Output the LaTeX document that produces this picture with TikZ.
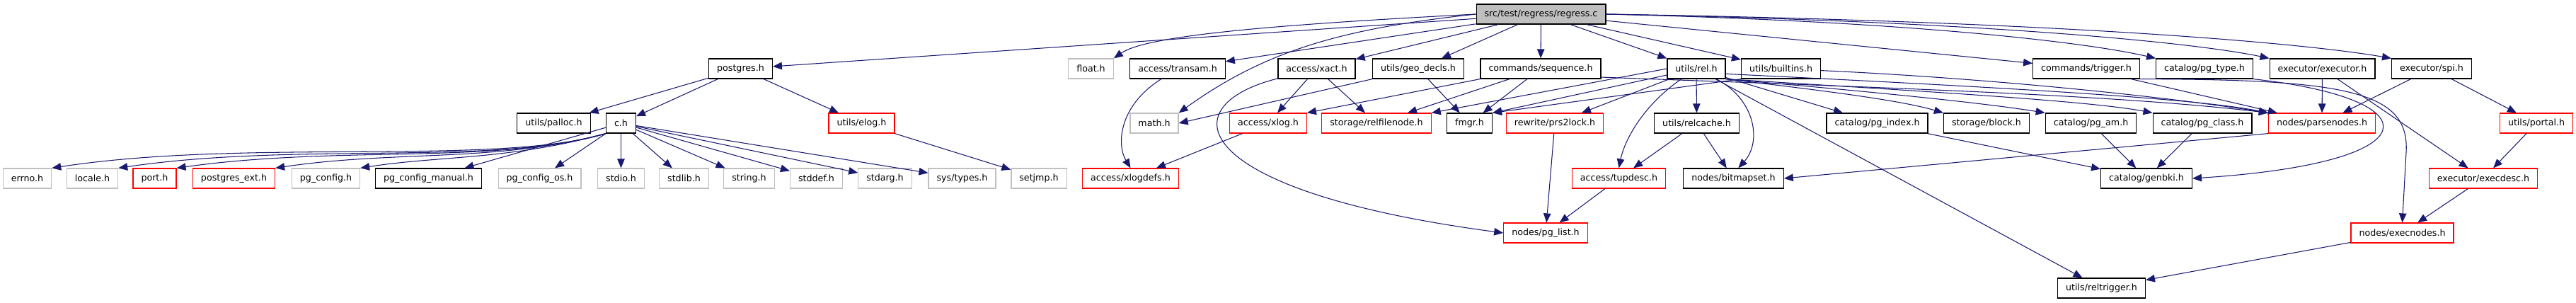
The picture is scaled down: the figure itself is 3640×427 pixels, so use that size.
\documentclass[tikz,border=0pt]{standalone}
\usepackage{fontspec}
\setmainfont{DejaVu Sans}
\usepackage{tikz}
\usetikzlibrary{arrows.meta}
\usepackage{xcolor}
\definecolor{edgeblue}{HTML}{191970}
\definecolor{boxgray}{HTML}{BFBFBF}

\begin{document}
\begin{tikzpicture}[x=0.02cm, y=-0.02cm, >={Triangle[length=2.6mm,width=2.1mm]},
    hdr/.style={draw=black, line width=0.7pt, fill=white, minimum height=0.56cm,
        inner xsep=0.23cm, inner ysep=0pt, font=\fontsize{7.2}{8}\selectfont},
    hdrred/.style={hdr, draw=red},
    hdrgray/.style={hdr, draw=boxgray},
    hdrroot/.style={hdr, fill=boxgray},
    inc/.style={->, draw=edgeblue, line width=0.6pt}]
    \useasboundingbox (0,0) rectangle (3640,427);
    % top file
    \node[hdrroot] (root) at (2177.5,20) {src/test/regress/regress.c};
    % first row
    \node[hdr] (postgres) at (1046.5,97) {postgres.h};
    \node[hdrgray] (float) at (1541.5,97) {float.h};
    \node[hdr] (transam) at (1664,97) {access/transam.h};
    \node[hdr] (xact) at (1860.5,97) {access/xact.h};
    \node[hdr] (geodecls) at (2004,97) {utils/geo\_decls.h};
    \node[hdr] (sequence) at (2177,97) {commands/sequence.h};
    \node[hdr] (rel) at (2397,97) {utils/rel.h};
    \node[hdr] (builtins) at (2516.5,97) {utils/builtins.h};
    \node[hdr] (trigger) at (2948,97) {commands/trigger.h};
    \node[hdr] (pgtype) at (3115,97) {catalog/pg\_type.h};
    \node[hdr] (executor) at (3281.5,97) {executor/executor.h};
    \node[hdr] (spi) at (3436,97) {executor/spi.h};
    % second row
    \node[hdr] (palloc) at (782.5,174) {utils/palloc.h};
    \node[hdr] (ch) at (877.5,174) {c.h};
    \node[hdrred] (elog) at (1217.5,174) {utils/elog.h};
    \node[hdrgray] (math) at (1631,174) {math.h};
    \node[hdrred] (xlog) at (1792,174) {access/xlog.h};
    \node[hdrred] (relfilenode) at (1945,174) {storage/relfilenode.h};
    \node[hdr] (fmgr) at (2076.5,174) {fmgr.h};
    \node[hdrred] (prs2lock) at (2197,174) {rewrite/prs2lock.h};
    \node[hdr] (relcache) at (2397.5,174) {utils/relcache.h};
    \node[hdr] (pgindex) at (2652.5,174) {catalog/pg\_index.h};
    \node[hdr] (block) at (2807,174) {storage/block.h};
    \node[hdr] (pgam) at (2954.5,174) {catalog/pg\_am.h};
    \node[hdr] (pgclass) at (3112,174) {catalog/pg\_class.h};
    \node[hdrred] (parsenodes) at (3281,174) {nodes/parsenodes.h};
    \node[hdrred] (portal) at (3584,174) {utils/portal.h};
    % third row
    \node[hdrgray] (errno) at (38.5,252) {errno.h};
    \node[hdrgray] (locale) at (130.5,252) {locale.h};
    \node[hdrred] (port) at (218.5,252) {port.h};
    \node[hdrred] (postgresext) at (330.5,252) {postgres\_ext.h};
    \node[hdrgray] (pgconfig) at (460.5,252) {pg\_config.h};
    \node[hdr] (pgconfigmanual) at (605.5,252) {pg\_config\_manual.h};
    \node[hdrgray] (pgconfigos) at (762.5,252) {pg\_config\_os.h};
    \node[hdrgray] (stdio) at (877.5,252) {stdio.h};
    \node[hdrgray] (stdlib) at (966.5,252) {stdlib.h};
    \node[hdrgray] (string) at (1058.5,252) {string.h};
    \node[hdrgray] (stddef) at (1153.5,252) {stddef.h};
    \node[hdrgray] (stdarg) at (1250.5,252) {stdarg.h};
    \node[hdrgray] (systypes) at (1359.5,252) {sys/types.h};
    \node[hdrgray] (setjmp) at (1468,252) {setjmp.h};
    \node[hdrred] (xlogdefs) at (1597.5,252) {access/xlogdefs.h};
    \node[hdrred] (tupdesc) at (2287.5,252) {access/tupdesc.h};
    \node[hdr] (bitmapset) at (2449.5,252) {nodes/bitmapset.h};
    \node[hdr] (genbki) at (3033,252) {catalog/genbki.h};
    \node[hdrred] (execdesc) at (3509,252) {executor/execdesc.h};
    % bottom rows
    \node[hdrred] (pglist) at (2184,329) {nodes/pg\_list.h};
    \node[hdrred] (execnodes) at (3394.5,329) {nodes/execnodes.h};
    \node[hdr] (reltrigger) at (2969.5,407) {utils/reltrigger.h};

    % includes of regress.c
    \draw[inc] (root) -- (postgres);
    \draw[inc] (root.west) .. controls (1800,35) and (1620,50) .. (float.north east);
    \draw[inc] (root) -- (transam);
    \draw[inc] (root.west) .. controls (1900,40) and (1790,70) .. (math.north east);
    \draw[inc] (root) -- (xact);
    \draw[inc] (root) -- (geodecls);
    \draw[inc] (root) -- (sequence);
    \draw[inc] (root) -- (rel);
    \draw[inc] (root) -- (builtins);
    \draw[inc] (root) -- (trigger);
    \draw[inc] (root.east) .. controls (2700,30) and (2950,60) .. (pgtype.north west);
    \draw[inc] (root.east) .. controls (2800,30) and (3100,60) .. (executor.north west);
    \draw[inc] (root.east) .. controls (2900,30) and (3250,60) .. (spi.north west);
    % postgres.h and c.h
    \draw[inc] (postgres) -- (palloc);
    \draw[inc] (postgres) -- (ch);
    \draw[inc] (postgres) -- (elog);
    \draw[inc] (elog) -- (setjmp);
    \draw[inc] (ch.south west) .. controls (700,235) and (350,195) .. (errno.north east);
    \draw[inc] (ch.south west) .. controls (700,235) and (420,200) .. (locale.north east);
    \draw[inc] (ch.south west) .. controls (700,233) and (480,205) .. (port.north east);
    \draw[inc] (ch.south west) .. controls (700,230) and (560,212) .. (postgresext.north east);
    \draw[inc] (ch.south west) .. controls (720,226) and (620,220) .. (pgconfig.north east);
    \foreach \t in {pgconfigmanual,pgconfigos,stdio,stdlib,string,stddef,stdarg,systypes}
        \draw[inc] (ch) -- (\t);
    % access/*
    \draw[inc] (transam) .. controls (1580,150) and (1578,205) .. (xlogdefs.north);
    \draw[inc] (xlog) -- (xlogdefs);
    \draw[inc] (xact) -- (xlog);
    \draw[inc] (xact) -- (relfilenode);
    \draw[inc] (xact) .. controls (1650,150) and (1680,270) .. (pglist.west);
    \draw[inc] (geodecls.south west) -- (math.east);
    \draw[inc] (geodecls) -- (fmgr);
    % commands/sequence.h
    \draw[inc] (sequence.south west) -- (xlog.north east);
    \draw[inc] (sequence) -- (relfilenode);
    \draw[inc] (sequence) -- (fmgr);
    \draw[inc] (sequence.-8) .. controls (2700,125) and (3000,135) .. (parsenodes.north west);
    % utils/rel.h
    \draw[inc] (rel.west) -- (relfilenode.north east);
    \draw[inc] (rel) -- (fmgr.north east);
    \draw[inc] (rel) -- (prs2lock);
    \draw[inc] (rel) .. controls (2320,150) and (2295,200) .. (tupdesc.north);
    \draw[inc] (rel) -- (relcache);
    \draw[inc] (rel) .. controls (2480,140) and (2490,200) .. (bitmapset.65);
    \draw[inc] (rel) -- (reltrigger);
    \draw[inc] (rel) -- (pgindex);
    \draw[inc] (rel.south east) .. controls (2550,125) and (2680,140) .. (block.north west);
    \draw[inc] (rel.south east) .. controls (2650,130) and (2800,145) .. (pgam.north west);
    \draw[inc] (rel.south east) .. controls (2700,128) and (2950,142) .. (pgclass.north west);
    \draw[inc] (rel.-10) .. controls (2800,122) and (3100,138) .. (parsenodes.north west);
    \draw[inc] (builtins.south west) -- (fmgr.north east);
    \draw[inc] (builtins) .. controls (2800,110) and (3050,135) .. (parsenodes.north west);
    \draw[inc] (relcache) -- (tupdesc);
    \draw[inc] (relcache) -- (bitmapset);
    \draw[inc] (tupdesc) -- (pglist);
    \draw[inc] (prs2lock) -- (pglist);
    % catalog and executor
    \draw[inc] (pgindex) -- (genbki);
    \draw[inc] (pgam) -- (genbki);
    \draw[inc] (pgclass) -- (genbki);
    \draw[inc] (parsenodes.south west) -- (bitmapset.east);
    \draw[inc] (trigger) -- (parsenodes);
    \draw[inc] (trigger.south east) .. controls (3320,112) and (3405,130) .. (3400,215) -- (execnodes.north);
    \draw[inc] (pgtype.south east) .. controls (3440,140) and (3440,230) .. (genbki.east);
    \draw[inc] (executor) -- (parsenodes);
    \draw[inc] (executor) -- (execdesc);
    \draw[inc] (spi) -- (parsenodes);
    \draw[inc] (spi) -- (portal);
    \draw[inc] (portal) -- (execdesc);
    \draw[inc] (execdesc) -- (execnodes);
    \draw[inc] (execnodes) -- (reltrigger);
\end{tikzpicture}
\end{document}
